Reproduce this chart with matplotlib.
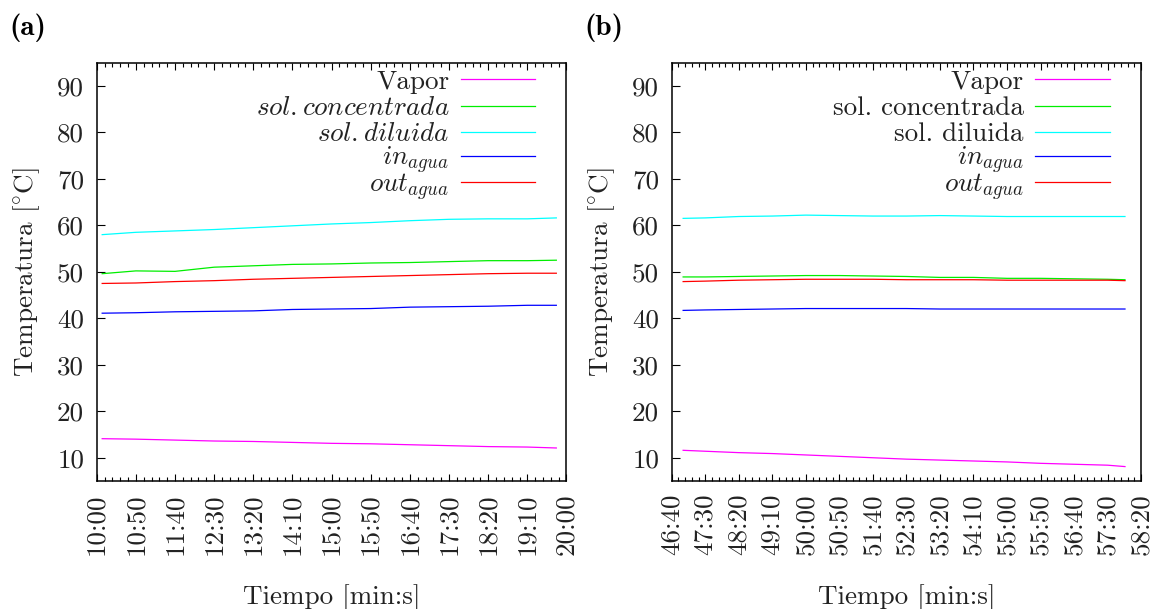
import matplotlib
matplotlib.use('Agg')
import matplotlib.pyplot as plt
from matplotlib.lines import Line2D
from matplotlib.legend import Legend
from matplotlib.ticker import FuncFormatter, MultipleLocator

plt.rcParams['font.family'] = 'cmr10'
plt.rcParams['mathtext.fontset'] = 'cm'
plt.rcParams['axes.unicode_minus'] = False

# panel (a): tiempo en segundos
t_a = [607, 650, 700, 750, 800, 850, 900, 950, 1000, 1050, 1100, 1150, 1187]
vapor_a = [14.1, 14.0, 13.8, 13.6, 13.5, 13.3, 13.1, 13.0, 12.8, 12.6, 12.4, 12.3, 12.1]
conc_a = [49.6, 50.2, 50.1, 51.0, 51.3, 51.6, 51.7, 51.9, 52.0, 52.2, 52.4, 52.4, 52.5]
dil_a = [58.0, 58.5, 58.8, 59.1, 59.5, 59.9, 60.3, 60.6, 61.0, 61.3, 61.4, 61.4, 61.6]
in_a = [41.1, 41.2, 41.4, 41.5, 41.6, 41.9, 42.0, 42.1, 42.4, 42.5, 42.6, 42.8, 42.8]
out_a = [47.5, 47.6, 47.9, 48.1, 48.4, 48.6, 48.8, 49.0, 49.2, 49.4, 49.6, 49.7, 49.7]

# panel (b)
t_b = [2817, 2850, 2900, 2950, 3000, 3050, 3100, 3150, 3200, 3250, 3300, 3350, 3400, 3450, 3476]
vapor_b = [11.6, 11.4, 11.1, 10.9, 10.6, 10.3, 10.0, 9.7, 9.5, 9.3, 9.1, 8.8, 8.6, 8.4, 8.1]
conc_b = [48.9, 48.9, 49.0, 49.1, 49.2, 49.2, 49.1, 49.0, 48.8, 48.8, 48.6, 48.6, 48.5, 48.4, 48.3]
dil_b = [61.5, 61.6, 61.9, 62.0, 62.2, 62.1, 62.0, 62.0, 62.1, 62.0, 61.9, 61.9, 61.9, 61.9, 61.9]
in_b = [41.7, 41.8, 41.9, 42.0, 42.1, 42.1, 42.1, 42.1, 42.0, 42.0, 42.0, 42.0, 42.0, 42.0, 42.0]
out_b = [47.9, 48.0, 48.2, 48.3, 48.4, 48.4, 48.4, 48.3, 48.3, 48.3, 48.2, 48.2, 48.2, 48.2, 48.1]

colors = ['#ff00ff', '#00ee00', '#00ffff', '#0000ff', '#ff0000']
labels_a = ['Vapor', r'$sol.concentrada$', r'$sol.diluida$', r'$in_{agua}$', r'$out_{agua}$']
labels_b = ['Vapor', 'sol. concentrada', 'sol. diluida', r'$in_{agua}$', r'$out_{agua}$']

FS = 19.5
TXT = '#222222'


def mmss(x, pos):
    x = int(round(x))
    return f"{x // 60:02d}:{x % 60:02d}"


def panel(ax, t, series, labels, xlim):
    for y, c in zip(series, colors):
        ax.plot(t, y, color=c, lw=0.9)
    ax.set_xlim(*xlim)
    ax.set_ylim(5, 95)
    ax.xaxis.set_major_locator(MultipleLocator(50))
    ax.xaxis.set_minor_locator(MultipleLocator(10))
    ax.xaxis.set_major_formatter(FuncFormatter(mmss))
    ax.set_yticks(range(10, 100, 10))
    ax.tick_params(axis='x', which='both', direction='in', top=True, bottom=True,
                   labelrotation=90, labelsize=FS, labelcolor=TXT, pad=9)
    ax.tick_params(axis='x', which='major', length=5, width=0.8)
    ax.tick_params(axis='x', which='minor', length=2.7, width=0.8)
    ax.tick_params(axis='y', which='major', direction='in', left=True, right=False,
                   length=5.5, width=0.8, labelsize=FS, labelcolor=TXT, pad=9)
    for s in ax.spines.values():
        s.set_linewidth(1.1)
    ax.set_xlabel('Tiempo [min:s]', fontsize=FS, color=TXT, labelpad=21)
    ax.set_ylabel(r'Temperatura [${}^{\circ}\mathrm{C}$]', fontsize=FS, color=TXT, labelpad=11)

    # gnuplot-style key: one row per entry, evenly spaced
    for i, (c, lab) in enumerate(zip(colors, labels)):
        h = Line2D([], [], color=c, lw=0.9)
        leg = Legend(ax, [h], [lab], loc='center right', frameon=False,
                     markerfirst=False, fontsize=FS, handlelength=2.75,
                     handletextpad=0.42, borderpad=0, borderaxespad=0,
                     bbox_to_anchor=(0.933, 0.954 - 0.0628 * i))
        leg.get_texts()[0].set_color(TXT)
        ax.add_artist(leg)


fig = plt.figure(figsize=(11.54, 6.09), dpi=100)
ax1 = fig.add_axes([0.0838, 0.2102, 0.4071, 0.6869])
ax2 = fig.add_axes([0.5821, 0.2102, 0.4067, 0.6869])

panel(ax1, t_a, [vapor_a, conc_a, dil_a, in_a, out_a], labels_a, (600, 1200))
panel(ax2, t_b, [vapor_b, conc_b, dil_b, in_b, out_b], labels_b, (2800, 3500))

fig.text(0.008, 0.955, '(a)', fontsize=21, family='cmb10', va='center')
fig.text(0.506, 0.955, '(b)', fontsize=21, family='cmb10', va='center')

fig.savefig('out.png', dpi=100)
